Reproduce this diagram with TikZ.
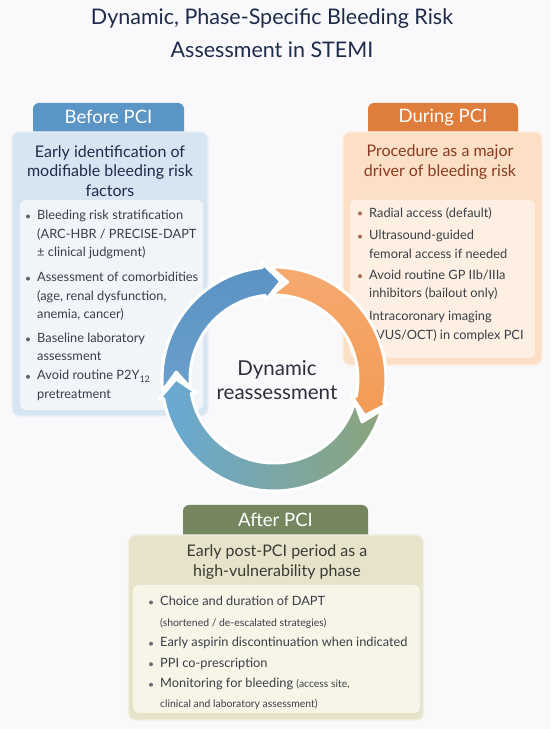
\documentclass[tikz,border=0pt]{standalone}
\usepackage{fontspec}
\setmainfont{Lato}
\usetikzlibrary{positioning}
\definecolor{cbg}{HTML}{F9F9FB}
\definecolor{cnavy}{HTML}{1E2B4A}
\definecolor{ctext}{HTML}{3A3F47}
\definecolor{cdark}{HTML}{2E2F3D}
\definecolor{cbefore}{HTML}{5B95C5}
\definecolor{cbeforefill}{HTML}{D7E5F2}
\definecolor{cbeforein}{HTML}{F1F5FA}
\definecolor{cringblue}{HTML}{5A92C4}
\definecolor{cringsky}{HTML}{67A9D6}
\definecolor{cduring}{HTML}{DF7D3C}
\definecolor{cduringfill}{HTML}{FBE0C6}
\definecolor{cduringin}{HTML}{FDEFE2}
\definecolor{cduringtext}{HTML}{8A3B20}
\definecolor{cringorange}{HTML}{F6AA70}
\definecolor{cringorange2}{HTML}{F29B56}
\definecolor{cafter}{HTML}{76875F}
\definecolor{cafterfill}{HTML}{E7E3CB}
\definecolor{cafterin}{HTML}{F7F4E8}
\definecolor{caftertext}{HTML}{3A3A34}
\definecolor{cringgreen}{HTML}{8CA47A}
\tikzset{
  every picture/.style={x=1pt, y=1pt},
  panel/.style={fill=#1, draw=white!45!#1, line width=1.2pt, rounded corners=7pt, inner sep=0pt},
  innerbox/.style={fill=#1, rounded corners=6pt, inner sep=0pt},
  tabtxt/.style={text=white, font=\fontsize{18.5}{22}\selectfont},
  head/.style={align=center, font=\fontsize{16}{19.5}\selectfont},
  item/.style={align=left, inner sep=0pt, text=ctext, font=\fontsize{12.8}{18.5}\selectfont, anchor=north west},
  note/.style={font=\fontsize{10.4}{14}\selectfont},
}
% clockwise ring arrow: #1 tail angle, #2 tip angle, #3 shading
\newcommand{\cyclearrow}[3]{%
  \shadedraw[draw=white, line width=3pt, line join=round, #3] (#1:112) arc[start angle=#1, end angle=#2+10, radius=112]
    -- ({#2+10}:117) -- (#2:98) -- ({#2+10}:79) -- ({#2+10}:84)
    arc[start angle=#2+10, end angle=#1, radius=84] -- ({#1-10}:98) -- cycle;}

\begin{document}
\begin{tikzpicture}
  \fill[cbg] (0,0) rectangle (550,729);
  \useasboundingbox (0,0) rectangle (550,729);
  \node[text=cnavy, align=center, font=\fontsize{21.5}{33}\selectfont] (title) at (272,696) {Dynamic, Phase-Specific Bleeding Risk\\Assessment in STEMI};

  % before PCI
  \fill[cbefore, rounded corners=6pt] (33,590) |- (108,626) -| (184,590) -- cycle;
  \node[tabtxt] (btab) at (108.5,612) {Before PCI};
  \node[panel=cbeforefill, minimum width=196pt, minimum height=284pt] (bpanel) at (110,455) {};
  \node[head, text=cnavy] (bhead) at (110,558) {Early identification of\\modifiable bleeding risk\\factors};
  \node[innerbox=cbeforein, minimum width=183pt, minimum height=210pt] (bbox) at (111.5,424) {};
  \node[item] (b1) at (37,519) {Bleeding risk stratification\\(ARC-HBR / PRECISE-DAPT\\± clinical judgment)};
  \node[item, below right=13pt and 0pt of b1.south west] (b2) {Assessment of comorbidities\\(age, renal dysfunction,\\anemia, cancer)};
  \node[item, below right=12pt and 0pt of b2.south west] (b3) {Baseline laboratory\\assessment};
  \node[item, below right=9pt and 0pt of b3.south west] (b4) {Avoid routine P2Y\textsubscript{12}\\pretreatment};
  \foreach \n in {b1,b2,b3,b4}
    \fill[ctext!80] ([xshift=-9pt, yshift=-6.5pt]\n.north west) circle (2pt);

  % during PCI
  \fill[cduring, rounded corners=6pt] (368,590) |- (443,626) -| (518,590) -- cycle;
  \node[tabtxt] (dtab) at (443,612) {During PCI};
  \node[panel=cduringfill, minimum width=199pt, minimum height=233pt] (dpanel) at (442.5,480.5) {};
  \node[head, text=cduringtext] (dhead) at (440,567) {Procedure as a major\\driver of bleeding risk};
  \node[innerbox=cduringin, minimum width=185pt, minimum height=158pt] (dbox) at (442.5,450) {};
  \node[item] (d1) at (369,522) {Radial access (default)};
  \node[item, below right=11pt and 0pt of d1.south west] (d2) {Ultrasound-guided\\femoral access if needed};
  \node[item, below right=11pt and 0pt of d2.south west] (d3) {Avoid routine GP IIb/IIIa\\inhibitors (bailout only)};
  \node[item, below right=11pt and 0pt of d3.south west] (d4) {Intracoronary imaging\\(IVUS/OCT) in complex PCI};
  \foreach \n in {d1,d2,d3,d4}
    \fill[cduring!60!black!80] ([xshift=-9pt, yshift=-6.5pt]\n.north west) circle (2pt);

  % after PCI
  \fill[cafter, rounded corners=6pt] (183,186) |- (275,224) -| (368,186) -- cycle;
  \node[tabtxt] (atab) at (275.5,209) {After PCI};
  \node[panel=cafterfill, minimum width=295pt, minimum height=185pt] (apanel) at (276,101.5) {};
  \node[head, text=caftertext] (ahead) at (277,167) {Early post-PCI period as a\\high-vulnerability phase};
  \node[innerbox=cafterin, minimum width=287pt, minimum height=128pt] (abox) at (276.5,80) {};
  \node[item] (a1) at (160,133) {Choice and duration of DAPT\\[2pt]{\fontsize{10.4}{14}\selectfont(shortened / de-escalated strategies)}};
  \node[item, below right=9pt and 0pt of a1.south west] (a2) {Early aspirin discontinuation when indicated};
  \node[item, below right=8.5pt and 0pt of a2.south west] (a3) {PPI co-prescription};
  \node[item, below right=8.5pt and 0pt of a3.south west] (a4) {Monitoring for bleeding {\fontsize{10.4}{14}\selectfont(access site,}\\[1pt]{\fontsize{10.4}{14}\selectfont clinical and laboratory assessment)}};
  \foreach \n in {a1,a2,a3,a4}
    \fill[ctext!75] ([xshift=-9pt, yshift=-6.5pt]\n.north west) circle (2pt);

  % ring
  \begin{scope}[shift={(274,350)}]
    \cyclearrow{186}{86}{top color=cringblue, bottom color=cbefore!90!white}
    \cyclearrow{92}{-22}{top color=cringorange, bottom color=cringorange2}
    \cyclearrow{-16}{-180}{left color=cringsky, right color=cringgreen}
    \node[align=center, text=cdark, font=\fontsize{20.5}{24}\selectfont] (dyn) at (3,-1) {Dynamic\\reassessment};
  \end{scope}
\end{tikzpicture}
\end{document}
